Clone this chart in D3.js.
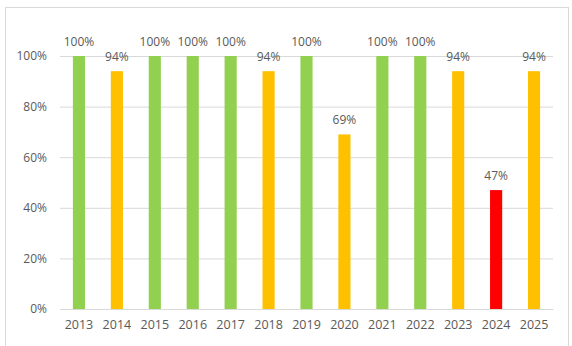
<!DOCTYPE html>
<html><head><meta charset="utf-8">
<script src="https://cdn.jsdelivr.net/npm/d3@7"></script>
<style>body{margin:0;background:#fff}svg{display:block}</style>
</head><body>
<script>
const years = ["2013","2014","2015","2016","2017","2018","2019","2020","2021","2022","2023","2024","2025"];
const values = [100,94,100,100,100,94,100,69,100,100,94,47,94];
const barColors = ["#92D050","#FFC000","#92D050","#92D050","#92D050","#FFC000","#92D050","#FFC000","#92D050","#92D050","#FFC000","#FF0000","#FFC000"];
const yTicks = [0,20,40,60,80,100];

const W=572,H=346;
const svg=d3.select("body").append("svg").attr("width",W).attr("height",H);
svg.append("rect").attr("x",5.5).attr("y",7.5).attr("width",563).attr("height",345)
  .attr("fill","none").attr("stroke","#D9D9D9");

const x=d3.scaleBand().domain(years).range([60,553]).paddingInner(0.68).paddingOuter(0.34);
const y=d3.scaleLinear().domain([0,100]).range([309,56]);
const font="'Open Sans', sans-serif";

const ya=svg.append("g").attr("transform","translate(60,0)")
  .call(d3.axisLeft(y).tickValues(yTicks).tickFormat(d=>d+"%").tickSize(-493).tickPadding(13));
ya.select(".domain").remove();
ya.selectAll("line").attr("stroke","#D9D9D9");
ya.selectAll("text").attr("fill","#595959").style("font-family",font).style("font-size","12px");

const xa=svg.append("g").attr("transform","translate(0,309)")
  .call(d3.axisBottom(x).tickSize(0).tickPadding(11));
xa.select(".domain").attr("stroke","#D9D9D9");
xa.selectAll("text").attr("fill","#595959").style("font-family",font).style("font-size","12.5px");

svg.selectAll("rect.bar").data(values).enter().append("rect").attr("class","bar")
  .attr("x",(d,i)=>x(years[i])).attr("width",x.bandwidth())
  .attr("y",d=>y(d)).attr("height",d=>y(0)-y(d)).attr("fill",(d,i)=>barColors[i]);

svg.selectAll("text.lbl").data(values).enter().append("text").attr("class","lbl")
  .attr("x",(d,i)=>x(years[i])+x.bandwidth()/2).attr("y",d=>y(d)-10)
  .attr("text-anchor","middle").attr("fill","#595959")
  .style("font-family",font).style("font-size","12px").text(d=>d+"%");
</script>
</body></html>
